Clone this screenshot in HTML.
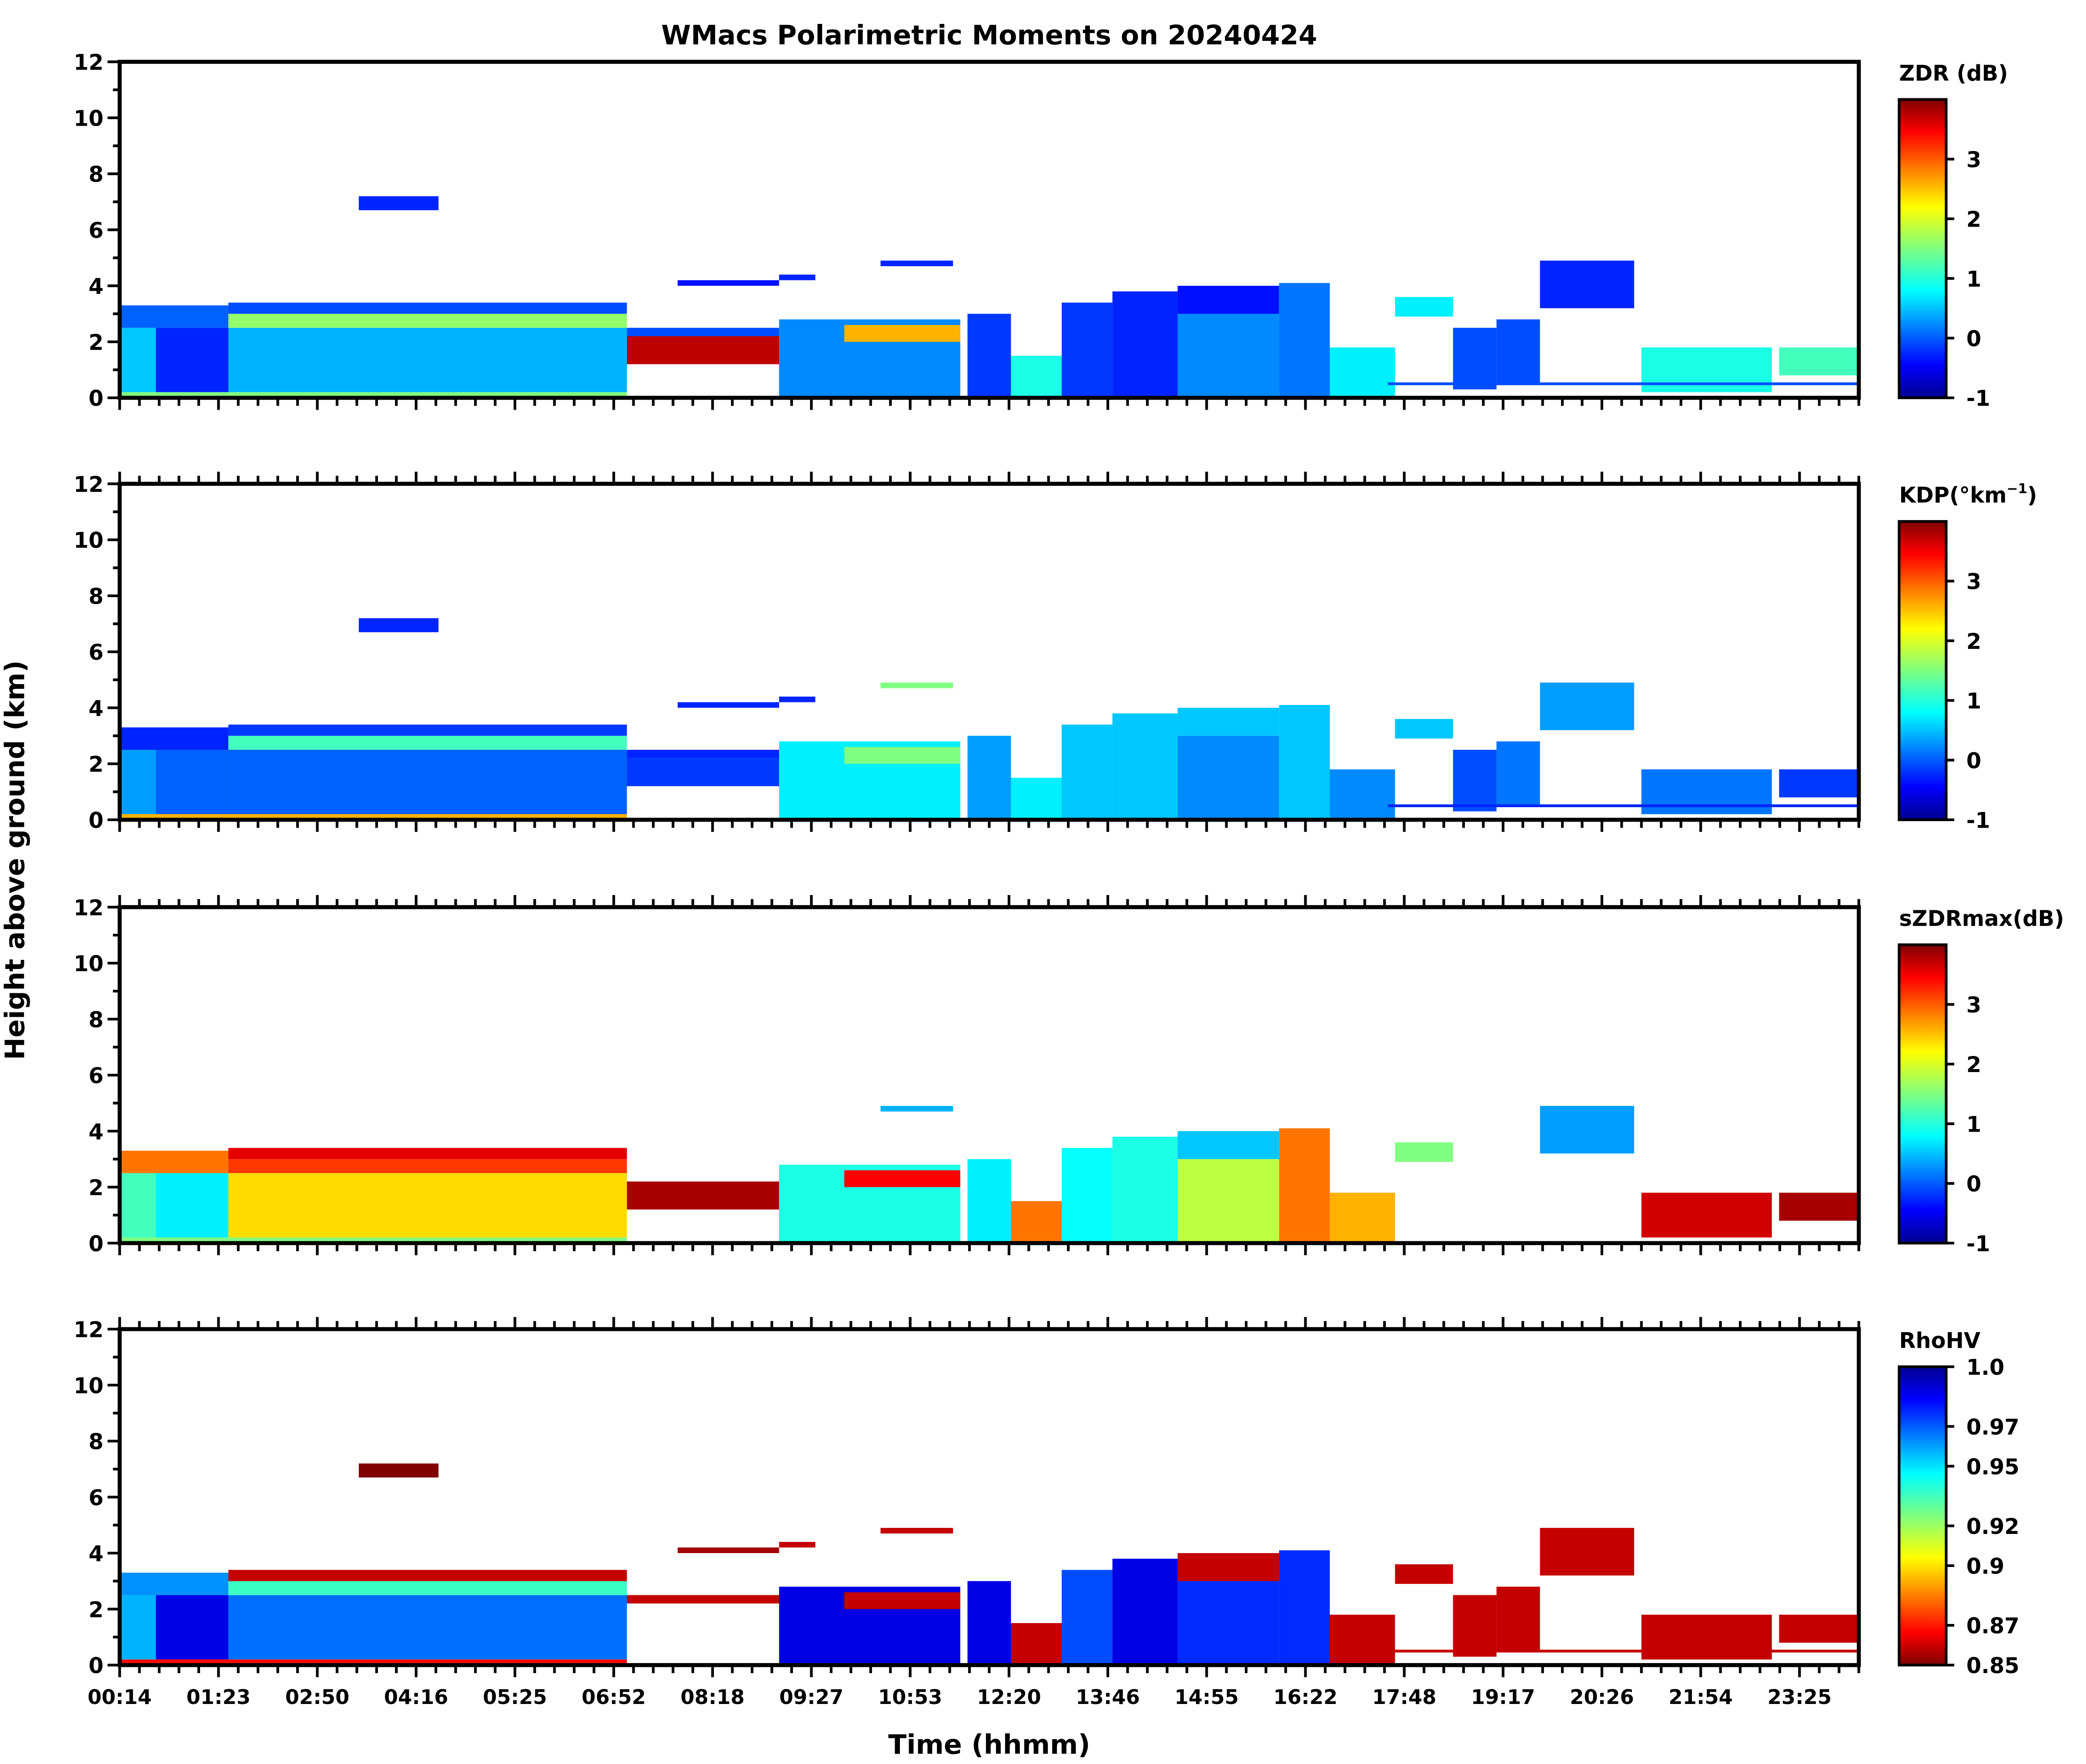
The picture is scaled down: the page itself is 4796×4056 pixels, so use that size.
<!DOCTYPE html>
<html><head><meta charset="utf-8">
<style>
html,body{margin:0;padding:0;background:#fff;}
svg{display:block;}
text{font-family:"DejaVu Sans","Liberation Sans",sans-serif;font-weight:bold;fill:#000;}
</style></head>
<body>
<svg id="fig" width="4796" height="4056" viewBox="0 0 1552 1312.6" xmlns="http://www.w3.org/2000/svg">
<defs>
<linearGradient id="jet" x1="0" y1="1" x2="0" y2="0">
<stop offset="0" stop-color="#00008f"/><stop offset="0.11" stop-color="#0000ff"/><stop offset="0.36" stop-color="#00ffff"/><stop offset="0.5" stop-color="#7fff7f"/><stop offset="0.64" stop-color="#ffff00"/><stop offset="0.89" stop-color="#ff0000"/><stop offset="1" stop-color="#7f0000"/>
</linearGradient>
<linearGradient id="jetr" x1="0" y1="0" x2="0" y2="1">
<stop offset="0" stop-color="#00008f"/><stop offset="0.11" stop-color="#0000ff"/><stop offset="0.36" stop-color="#00ffff"/><stop offset="0.5" stop-color="#7fff7f"/><stop offset="0.64" stop-color="#ffff00"/><stop offset="0.89" stop-color="#ff0000"/><stop offset="1" stop-color="#7f0000"/>
</linearGradient>
</defs>
<text x="736" y="33" font-size="20" text-anchor="middle">WMacs Polarimetric Moments on 20240424</text>
<text transform="translate(18,640) rotate(-90)" font-size="20" text-anchor="middle">Height above ground (km)</text>
<text x="736" y="1305" font-size="20" text-anchor="middle">Time (hhmm)</text>
<g id="plots"></g>
</svg>
<script>
// echo blocks: time start/end (hours), base/top height (km)
const blockT0 = [0.0, 0.5, 1.5, 0.0, 1.5, 1.5, 7.0, 7.0, 3.3, 7.7, 9.1, 10.0, 11.7, 12.3, 13.0, 13.7, 14.6, 14.6, 16.0, 16.7, 17.6, 18.4, 19.0, 19.6, 21.0, 22.9, 0.0, 17.5, 9.1, 10.5];
const blockT1 = [0.5, 1.5, 7.0, 1.5, 7.0, 7.0, 9.1, 9.1, 4.4, 9.1, 11.6, 11.6, 12.3, 13.0, 13.7, 14.6, 16.0, 16.0, 16.7, 17.6, 18.4, 19.0, 19.6, 20.9, 22.8, 24.0, 7.0, 24.0, 9.6, 11.5];
const blockH0 = [0.2, 0.2, 0.2, 2.5, 2.5, 3.0, 1.2, 2.2, 6.7, 4.0, 0.0, 2.0, 0.0, 0.0, 0.0, 0.0, 0.0, 3.0, 0.0, 0.0, 2.9, 0.3, 0.5, 3.2, 0.2, 0.8, 0.0, 0.45, 4.2, 4.7];
const blockH1 = [2.5, 2.5, 2.5, 3.3, 3.0, 3.4, 2.2, 2.5, 7.2, 4.2, 2.8, 2.6, 3.0, 1.5, 3.4, 3.8, 3.0, 4.0, 4.1, 1.8, 3.6, 2.5, 2.8, 4.9, 1.8, 1.8, 0.2, 0.55, 4.4, 4.9];
// values per panel (null = no echo)
const zdrVals = [0.6, -0.2, 0.5, 0.1, 1.6, 0.0, 3.7, 0.0, -0.2, -0.3, 0.3, 2.5, -0.1, 1.0, -0.1, -0.2, 0.3, -0.3, 0.2, 0.8, 0.8, 0.0, 0.0, -0.2, 1.0, 1.2, 1.5, 0.0, -0.2, -0.2];
const kdpVals = [0.4, 0.1, 0.1, -0.2, 1.2, -0.1, -0.1, -0.2, -0.2, -0.2, 0.8, 1.5, 0.4, 0.8, 0.6, 0.6, 0.3, 0.6, 0.6, 0.3, 0.6, 0.0, 0.2, 0.4, 0.2, -0.1, 2.5, -0.2, -0.2, 1.5];
const szdrVals = [1.2, 0.8, 2.3, 2.8, 3.1, 3.5, 3.8, null, null, null, 1.0, 3.4, 0.8, 2.8, 0.9, 1.0, 1.8, 0.6, 2.8, 2.5, 1.5, null, null, 0.4, 3.6, 3.8, 1.5, null, null, 0.5];
const rhoVals = [0.955, 0.985, 0.965, 0.96, 0.935, 0.86, null, 0.86, 0.85, 0.855, 0.985, 0.86, 0.985, 0.86, 0.97, 0.985, 0.975, 0.86, 0.975, 0.86, 0.86, 0.86, 0.86, 0.86, 0.86, 0.86, 0.87, 0.86, 0.86, 0.86];
const tickLabels = ["00:14","01:23","02:50","04:16","05:25","06:52","08:18","09:27","10:53","12:20","13:46","14:55","16:22","17:48","19:17","20:26","21:54","23:25"];
const yTicks = [0, 2, 4, 6, 8, 10, 12];
const cbTicksLin = [-1, 0, 1, 2, 3];
const rhoTicks = [1.0, 0.97, 0.95, 0.92, 0.9, 0.87, 0.85];
const rhoTickLabels = ["1.0","0.97","0.95","0.92","0.9","0.87","0.85"];

const NS = "http://www.w3.org/2000/svg";
const g = document.getElementById('plots');
const X0 = 89, X1 = 1383, CBX = 1413, CBW = 35;
const panelTops = [46, 360, 675, 989], PH = 250;
const xOf = h => X0 + (X1 - X0) * h / 24;

function jet(t){
  t = Math.max(0, Math.min(1, t));
  const r = Math.max(0, Math.min(1, Math.min(4*t-1.5, -4*t+4.5)));
  const gg = Math.max(0, Math.min(1, Math.min(4*t-0.5, -4*t+3.5)));
  const b = Math.max(0, Math.min(1, Math.min(4*t+0.5, -4*t+2.5)));
  return `rgb(${Math.round(r*255)},${Math.round(gg*255)},${Math.round(b*255)})`;
}
function mk(tag, attrs, parent){
  const e = document.createElementNS(NS, tag);
  for (const k in attrs) e.setAttribute(k, attrs[k]);
  (parent || g).appendChild(e);
  return e;
}
const panels = [
  {vals: zdrVals, norm: v => (v + 1) / 5, label: "ZDR (dB)", name: "zdr"},
  {vals: kdpVals, norm: v => (v + 1) / 5, label: "KDP(°km", name: "kdp", sup: true},
  {vals: szdrVals, norm: v => (v + 1) / 5, label: "sZDRmax(dB)", name: "szdr"},
  {vals: rhoVals, norm: v => 1 - (v - 0.85) / 0.15, label: "RhoHV", name: "rhohv"}
];
panels.forEach((p, pi) => {
  const top = panelTops[pi], bot = top + PH;
  const yOf = h => bot - PH * h / 12;
  const pg = mk('g', {});
  
  
  for (let i = 0; i < blockT0.length; i++) {
    const v = p.vals[i];
    if (v === null || v === undefined) continue;
    const r = mk('rect', {x: xOf(blockT0[i]), y: yOf(blockH1[i]), width: xOf(blockT1[i]) - xOf(blockT0[i]), height: yOf(blockH0[i]) - yOf(blockH1[i]), fill: jet(p.norm(v))}, pg);
    
    
  }
  const fr = mk('rect', {x: X0, y: top, width: X1 - X0, height: PH, fill: 'none', stroke: '#000', 'stroke-width': 3}, pg);
  
  
  for (let k = 0; k <= 12; k++) {
    const y = yOf(k), major = k % 2 === 0;
    mk('line', {x1: X0, x2: X0 - (major ? 9 : 5), y1: y, y2: y, stroke: '#000', 'stroke-width': 2}, pg);
  }
  yTicks.forEach(v => {
    const t = mk('text', {x: X0 - 12, y: yOf(v) + 6, 'font-size': 16, 'text-anchor': 'end'}, pg);
    t.textContent = v;
    
    
  });
  const step = (X1 - X0) / (tickLabels.length - 0.4) / 5;
  for (let k = 0; X0 + k * step <= X1 + 0.5; k++) {
    const x = X0 + k * step, major = k % 5 === 0;
    mk('line', {x1: x, x2: x, y1: bot, y2: bot + (major ? 9 : 6), stroke: '#000', 'stroke-width': 2}, pg);
    if (pi > 0) mk('line', {x1: x, x2: x, y1: top, y2: top - (major ? 9 : 6), stroke: '#000', 'stroke-width': 2}, pg);
  }
  if (pi === 3) {
    tickLabels.forEach((lab, k) => {
      const t = mk('text', {x: X0 + k * step * 5, y: bot + 29, 'font-size': 15, 'text-anchor': 'middle'}, pg);
      t.textContent = lab;
      
      
    });
  }
  const cbTop = top + 28, cbBot = bot;
  const cb = mk('rect', {x: CBX, y: cbTop, width: CBW, height: cbBot - cbTop, fill: pi === 3 ? 'url(#jetr)' : 'url(#jet)', stroke: '#000', 'stroke-width': 2}, pg);
  
  
  const lab = mk('text', {x: 1413, y: top + 14, 'font-size': 16}, pg);
  
  
  if (p.sup) {
    lab.textContent = p.label;
    const s = mk('tspan', {'font-size': 10, dy: -7}, lab); s.textContent = '−1';
    const s2 = mk('tspan', {dy: 7}, lab); s2.textContent = ')';
  } else lab.textContent = p.label;
  if (pi < 3) {
    cbTicksLin.forEach(v => {
      const y = cbBot - (cbBot - cbTop) * (v + 1) / 5;
      mk('line', {x1: CBX + CBW, x2: CBX + CBW + 6, y1: y, y2: y, stroke: '#000', 'stroke-width': 2}, pg);
      const t = mk('text', {x: 1463, y: y + 6, 'font-size': 16}, pg);
      t.textContent = v;
      
      
    });
  } else {
    rhoTicks.forEach((v, k) => {
      const y = cbBot - (cbBot - cbTop) * (v - 0.85) / 0.15;
      mk('line', {x1: CBX + CBW, x2: CBX + CBW + 6, y1: y, y2: y, stroke: '#000', 'stroke-width': 2}, pg);
      const t = mk('text', {x: 1463, y: y + 6, 'font-size': 16}, pg);
      t.textContent = rhoTickLabels[k];
      
      
    });
  }
});
</script>
</body></html>
